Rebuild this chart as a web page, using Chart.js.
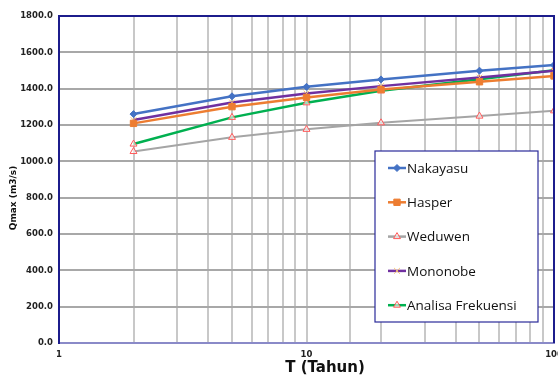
<!DOCTYPE html>
<html>
<head>
<meta charset="utf-8">
<script src="https://cdn.jsdelivr.net/npm/chart.js@4.4.1/dist/chart.umd.min.js"></script>
<style>
  html, body { margin: 0; padding: 0; background: #ffffff; }
  #wrap { width: 558px; height: 379px; position: relative; }
</style>
</head>
<body>
<div id="wrap"><canvas id="qChart" width="558" height="379"></canvas></div>
<script>
// Periode ulang (tahun) dan debit banjir rencana tiap metode
const periode = [2, 5, 10, 20, 50, 100];
const nakayasu = [1260, 1358, 1410, 1451, 1499, 1530];
const hasper = [1209, 1301, 1352, 1395, 1438, 1470];
const weduwen = [1054, 1132, 1176, 1212, 1249, 1278];
const mononobe = [1227, 1324, 1373, 1414, 1461, 1498];
const analisaFrekuensi = [1095, 1242, 1322, 1388, 1452, 1502];
const xTickLabels = ['1', '10', '100'];

const toPoints = arr => arr.map((v, i) => ({ x: periode[i], y: v }));

// legenda dalam kotak, digambar manual
const boxLegend = {
    id: 'boxLegend',
    afterDraw(chart) {
        const c = chart.ctx;
        const x0 = 375, y0 = 151, w = 163, h = 171;
        c.save();
        c.fillStyle = '#ffffff';
        c.fillRect(x0, y0, w, h);
        c.strokeStyle = '#2a2a9a';
        c.lineWidth = 1.2;
        c.strokeRect(x0, y0, w, h);
        c.font = '13.5px "Open Sans"';
        c.textBaseline = 'middle';
        chart.data.datasets.forEach((ds, i) => {
            const y = 168 + i * 34.3;
            c.strokeStyle = ds.borderColor;
            c.lineWidth = 2.5;
            c.beginPath();
            c.moveTo(388, y);
            c.lineTo(406, y);
            c.stroke();
            c.lineWidth = 1;
            c.strokeStyle = ds.pointBorderColor;
            c.fillStyle = ds.pointBackgroundColor;
            Chart.helpers.drawPoint(c, {
                pointStyle: ds.pointStyle,
                radius: ds.pointRadius,
                borderWidth: ds.pointBorderWidth,
                rotation: 0
            }, 397, y);
            c.fillStyle = '#111111';
            c.fillText(ds.label, 407, y + 1);
        });
        c.restore();
    }
};

// garis tepi atas/kanan, label sumbu x, judul sumbu
const frame = {
    id: 'frame',
    afterDraw(chart) {
        const c = chart.ctx;
        const a = chart.chartArea;
        const xs = chart.scales.x;
        c.save();
        c.strokeStyle = '#1c1c8c';
        c.lineWidth = 2;
        c.beginPath();
        c.moveTo(a.left, a.top);
        c.lineTo(a.right, a.top);
        c.lineTo(a.right, a.bottom);
        c.stroke();
        c.fillStyle = '#222222';
        c.font = 'bold 8.5px "DejaVu Sans"';
        c.textAlign = 'center';
        c.textBaseline = 'middle';
        xTickLabels.forEach(t => {
            c.fillText(t, xs.getPixelForValue(Number(t)), 355);
        });
        c.font = 'bold 15px "DejaVu Sans"';
        c.fillStyle = '#111111';
        c.fillText('T (Tahun)', 325, 368);
        c.translate(14, 198);
        c.rotate(-Math.PI / 2);
        c.font = 'bold 9px "DejaVu Sans"';
        c.fillText('Qmax (m3/s)', 0, 0);
        c.restore();
    }
};

new Chart(document.getElementById('qChart'), {
    type: 'line',
    data: {
        datasets: [{
            label: 'Nakayasu',
            data: toPoints(nakayasu),
            borderColor: '#4472c4',
            backgroundColor: '#4472c4',
            pointBackgroundColor: '#4472c4',
            pointBorderColor: '#4472c4',
            pointStyle: 'rectRot',
            pointRadius: 3.5,
            pointBorderWidth: 1,
            borderWidth: 2.5
        }, {
            label: 'Hasper',
            data: toPoints(hasper),
            borderColor: '#ed7d31',
            backgroundColor: '#ed7d31',
            pointBackgroundColor: '#ed7d31',
            pointBorderColor: '#ed7d31',
            pointStyle: 'rect',
            pointRadius: 4.5,
            pointBorderWidth: 1,
            borderWidth: 2.5
        }, {
            label: 'Weduwen',
            data: toPoints(weduwen),
            borderColor: '#a5a5a5',
            backgroundColor: '#a5a5a5',
            pointBackgroundColor: 'rgba(255,255,255,0.6)',
            pointBorderColor: '#ff5a5a',
            pointStyle: 'triangle',
            pointRadius: 4,
            pointBorderWidth: 1,
            borderWidth: 2
        }, {
            label: 'Mononobe',
            data: toPoints(mononobe),
            borderColor: '#7030a0',
            backgroundColor: '#7030a0',
            pointBackgroundColor: '#ffc000',
            pointBorderColor: '#f5c070',
            pointStyle: 'crossRot',
            pointRadius: 4,
            pointBorderWidth: 1,
            borderWidth: 2.5
        }, {
            label: 'Analisa Frekuensi',
            data: toPoints(analisaFrekuensi),
            borderColor: '#00b050',
            backgroundColor: '#00b050',
            pointBackgroundColor: 'rgba(255,255,255,0.6)',
            pointBorderColor: '#ff5a5a',
            pointStyle: 'triangle',
            pointRadius: 4,
            pointBorderWidth: 1,
            borderWidth: 2.5
        }]
    },
    options: {
        responsive: false,
        animation: false,
        layout: { autoPadding: false, padding: { top: 16, right: 4, left: 0, bottom: 0 } },
        plugins: {
            legend: { display: false },
            tooltip: { enabled: false }
        },
        scales: {
            x: {
                type: 'logarithmic',
                min: 1,
                max: 100,
                ticks: { display: false },
                grid: { color: '#c8c8c8', lineWidth: 2, drawTicks: false },
                border: { color: '#8a8ac8', width: 2 },
                afterFit(scale) { scale.height = 36; }
            },
            y: {
                min: 0,
                max: 1800,
                ticks: {
                    stepSize: 200,
                    color: '#222222',
                    font: { family: 'DejaVu Sans', weight: 'bold', size: 8.5 },
                    padding: 6,
                    callback: v => v.toFixed(1)
                },
                grid: { color: '#a8a8a8', lineWidth: 2, drawTicks: false },
                border: { color: '#1c1c8c', width: 2 },
                afterFit(scale) { scale.width = 59; }
            }
        }
    },
    plugins: [boxLegend, frame]
});
</script>
</body>
</html>
